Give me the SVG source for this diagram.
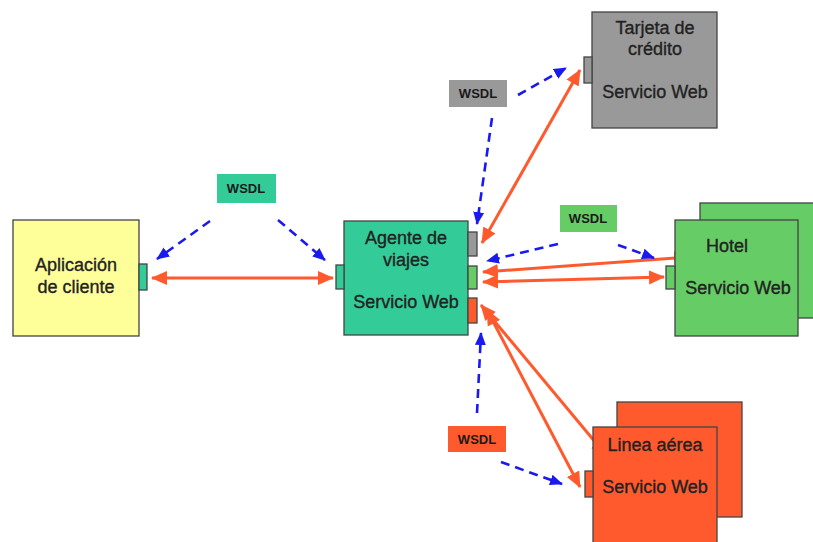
<svg xmlns="http://www.w3.org/2000/svg" width="813" height="542" viewBox="0 0 813 542">
<style>
.box{stroke:#444;stroke-width:1.3}
.lbl{font-family:"Liberation Sans",Arial,sans-serif;font-size:18px;fill:#222;stroke:#222;stroke-width:0.35;text-anchor:middle}
.w{font-family:"Liberation Sans",Arial,sans-serif;font-size:13px;font-weight:bold;fill:#1a1a1a;text-anchor:middle}
.red{stroke:#FF5A2E;stroke-width:3;fill:none}
.blue{stroke:#1A1AF0;stroke-width:2.6;fill:none;stroke-dasharray:9 6}
.yel{fill:#FFFF99}.teal{fill:#33CC99}.gray{fill:#999999}.grn{fill:#66CC66}.org{fill:#FF5A2E}
</style>
<defs>
<marker id="ra" markerUnits="userSpaceOnUse" markerWidth="16" markerHeight="16" refX="15" refY="8" orient="auto-start-reverse" viewBox="0 0 16 16">
<path d="M0,1 L16,8 L0,15 z" fill="#FF5A2E"/>
</marker>
<marker id="ba" markerUnits="userSpaceOnUse" markerWidth="13" markerHeight="13" refX="12" refY="6.5" orient="auto" viewBox="0 0 13 13">
<path d="M0,1 L13,6.5 L0,12 z" fill="#1A1AF0"/>
</marker>
</defs>
<g id="connectors">
<line class="red" x1="152" y1="278" x2="333" y2="278" marker-start="url(#ra)" marker-end="url(#ra)"/>
<line class="red" x1="482" y1="243" x2="580" y2="70" marker-start="url(#ra)" marker-end="url(#ra)"/>
<line class="red" x1="483" y1="272" x2="689" y2="257" marker-start="url(#ra)" marker-end="url(#ra)"/>
<line class="red" x1="483" y1="282" x2="664" y2="277" marker-start="url(#ra)" marker-end="url(#ra)"/>
<line class="red" x1="481" y1="305" x2="606" y2="455" marker-start="url(#ra)" marker-end="url(#ra)"/>
<line class="red" x1="487" y1="310" x2="580" y2="487" marker-start="url(#ra)" marker-end="url(#ra)"/>
<line class="blue" x1="210" y1="221" x2="157" y2="259" marker-end="url(#ba)"/>
<line class="blue" x1="278" y1="220" x2="325" y2="260" marker-end="url(#ba)"/>
<line class="blue" x1="518" y1="95" x2="566" y2="68" marker-end="url(#ba)"/>
<line class="blue" x1="492" y1="118" x2="477" y2="224" marker-end="url(#ba)"/>
<line class="blue" x1="558" y1="244" x2="487" y2="261" marker-end="url(#ba)"/>
<line class="blue" x1="618" y1="245" x2="654" y2="258" marker-end="url(#ba)"/>
<line class="blue" x1="477" y1="413" x2="481" y2="333" marker-end="url(#ba)"/>
<line class="blue" x1="501" y1="462" x2="562" y2="484" marker-end="url(#ba)"/>
</g>
<g id="cliente">
<rect class="box yel" x="13" y="220" width="126" height="116"/>
<rect class="box teal" x="139" y="264" width="8" height="26"/>
<text class="lbl" x="76" y="271">Aplicación</text>
<text class="lbl" x="76" y="293">de cliente</text>
</g>
<g id="agente">
<rect class="box teal" x="344" y="221" width="124" height="114"/>
<rect class="box teal" x="336" y="265" width="8" height="24"/>
<rect class="box gray" x="468" y="232" width="9" height="24"/>
<rect class="box grn" x="468" y="266" width="9" height="23"/>
<rect class="box org" x="468" y="298" width="9" height="25"/>
<text class="lbl" x="406" y="244">Agente de</text>
<text class="lbl" x="406" y="266">viajes</text>
<text class="lbl" x="406" y="308">Servicio Web</text>
</g>
<g id="tarjeta">
<rect class="box gray" x="592" y="12" width="125" height="116"/>
<rect class="box gray" x="584" y="57" width="8" height="26"/>
<text class="lbl" x="655" y="34">Tarjeta de</text>
<text class="lbl" x="655" y="55">crédito</text>
<text class="lbl" x="655" y="98">Servicio Web</text>
</g>
<g id="hotel">
<rect class="box grn" x="700" y="203" width="114" height="115"/>
<rect class="box grn" x="675" y="220" width="123" height="116"/>
<rect class="box grn" x="666" y="266" width="9" height="23"/>
<text class="lbl" x="727" y="252">Hotel</text>
<text class="lbl" x="738" y="294">Servicio Web</text>
</g>
<g id="linea">
<rect class="box org" x="617" y="402" width="125" height="115"/>
<rect class="box org" x="593" y="427" width="124" height="118"/>
<rect class="box org" x="585" y="471" width="8" height="26"/>
<text class="lbl" x="655" y="451">Linea aérea</text>
<text class="lbl" x="655" y="493">Servicio Web</text>
</g>
<g id="wsdl1">
<rect class="teal" x="217" y="174" width="59" height="29"/>
<text class="w" x="246" y="193">WSDL</text>
</g>
<g id="wsdl2">
<rect class="gray" x="449" y="80" width="58" height="27"/>
<text class="w" x="478" y="98">WSDL</text>
</g>
<g id="wsdl3">
<rect class="grn" x="560" y="205" width="57" height="27"/>
<text class="w" x="588" y="223">WSDL</text>
</g>
<g id="wsdl4">
<rect class="org" x="448" y="426" width="58" height="26"/>
<text class="w" x="477" y="444">WSDL</text>
</g>
</svg>
